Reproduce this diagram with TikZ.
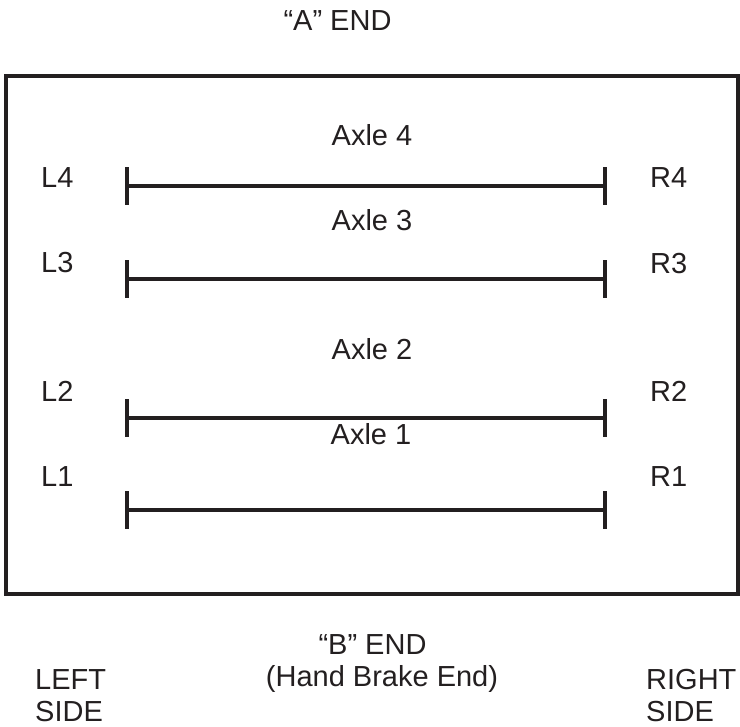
\documentclass[tikz,border=0pt]{standalone}
\usepackage{fontspec}
\setmainfont{Liberation Sans}
\definecolor{ink}{HTML}{231F20}
\begin{document}
\begin{tikzpicture}[x=1pt,y=-1pt,
  lbl/.style={inner sep=0pt,text=ink,font=\fontsize{29}{35}\selectfont},
  frame/.style={draw=ink,line width=4pt},
  axle/.style={draw=ink,line width=4pt}]
\useasboundingbox (0,0) rectangle (740,727);
\draw[frame] (6,76) rectangle (738,594);
% axles
\foreach \n/\y in {4/186,3/279,2/418,1/510}{
  \coordinate (l\n) at (127,\y);
  \coordinate (r\n) at (604.5,\y);
  \draw[axle] (l\n) -- (r\n);
  \draw[axle] ([yshift=-19pt]l\n) -- ([yshift=19pt]l\n);
  \draw[axle] ([yshift=-19pt]r\n) -- ([yshift=19pt]r\n);
}
% labels
\node[lbl,anchor=base] (ax4) at (372,146) {Axle 4};
\node[lbl,anchor=base] (ax3) at (372,231) {Axle 3};
\node[lbl,anchor=base] (ax2) at (372,360) {Axle 2};
\node[lbl,anchor=base] (ax1) at (371,445) {Axle 1};
\node[lbl,anchor=base west] (L4) at (41,188) {L4};
\node[lbl,anchor=base west] (L3) at (41,273) {L3};
\node[lbl,anchor=base west] (L2) at (41,402) {L2};
\node[lbl,anchor=base west] (L1) at (41,487) {L1};
\node[lbl,anchor=base west] (R4) at (650,188) {R4};
\node[lbl,anchor=base west] (R3) at (650,274) {R3};
\node[lbl,anchor=base west] (R2) at (650,402) {R2};
\node[lbl,anchor=base west] (R1) at (650,487) {R1};
\node[lbl,anchor=base] (aend) at (337.5,31) {“A” END};
\node[lbl,anchor=base] (bend) at (372.5,655) {“B” END};
\node[lbl,anchor=base] (hbe) at (382,686) {(Hand Brake End)};
\node[lbl,anchor=base west] (left) at (35,689) {LEFT};
\node[lbl,anchor=base west] (lside) at (35,721) {SIDE};
\node[lbl,anchor=base west] (right) at (646,689) {RIGHT};
\node[lbl,anchor=base west] (rside) at (646,721) {SIDE};
\end{tikzpicture}
\end{document}
